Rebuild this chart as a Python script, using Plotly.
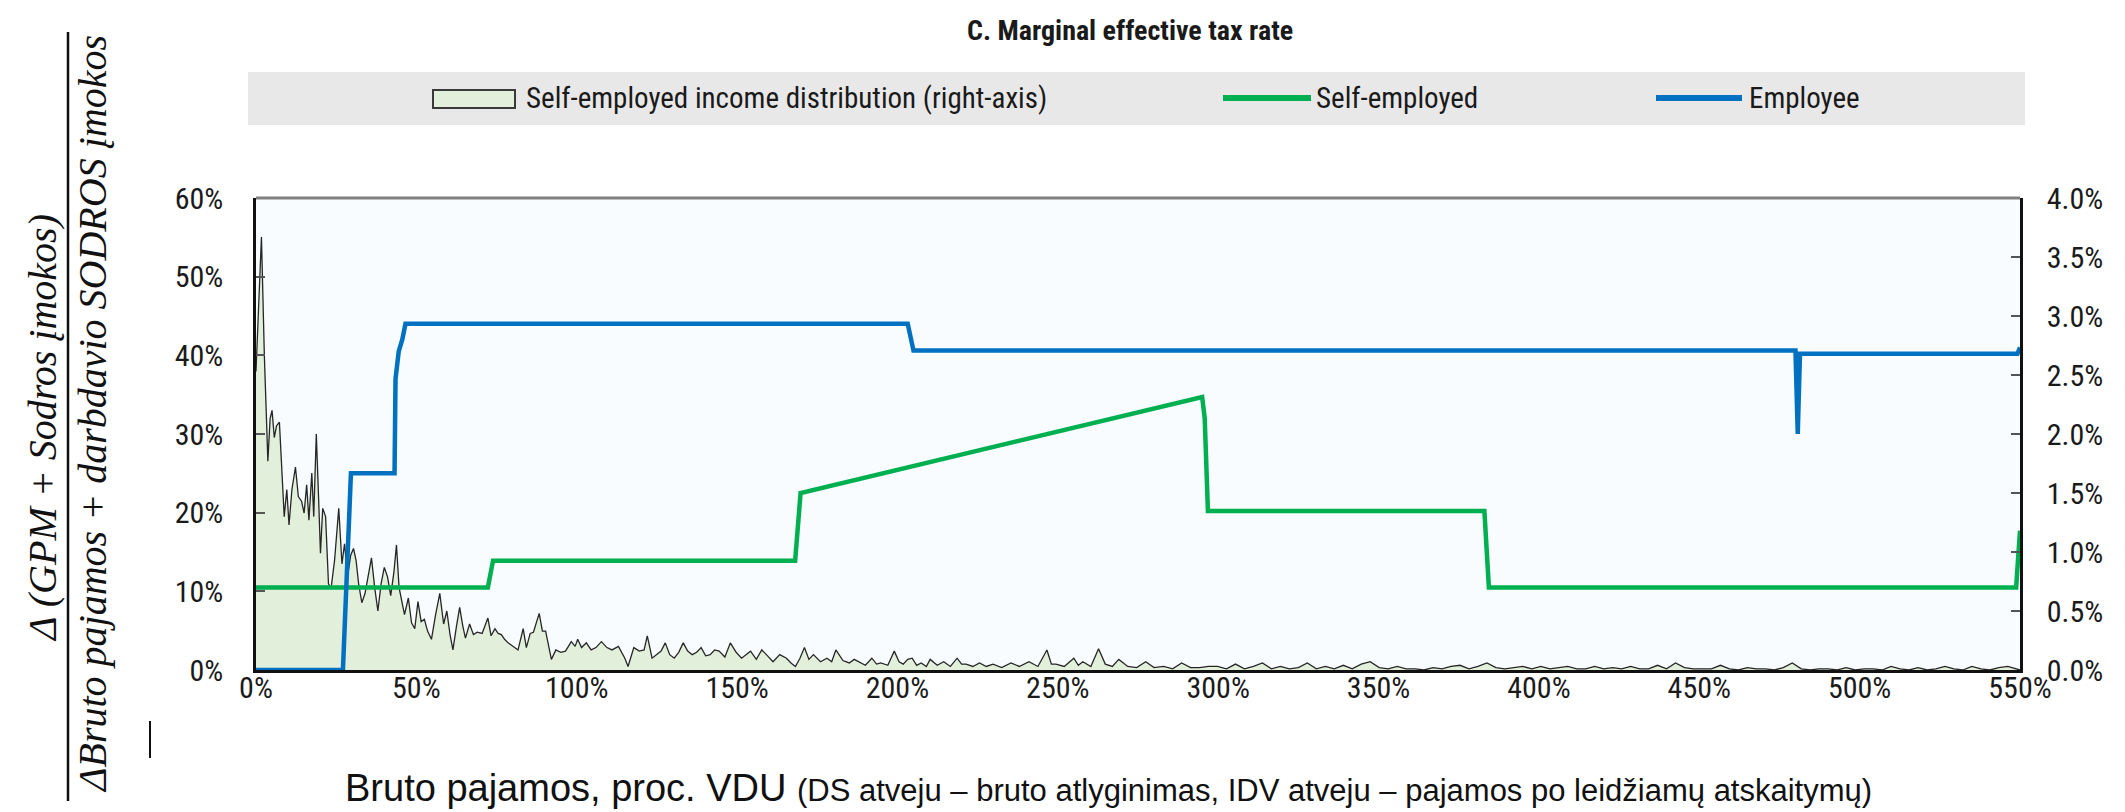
import plotly.graph_objects as go

# ---------------- data ----------------
# x: gross income, % of average wage
# Self-employed income distribution (right axis, %)
dist_x = [
    0, 0.8, 1.7, 2.6, 3.7, 4.4, 5.0, 5.7, 6.4, 7.3,
    8.0, 8.8, 9.6, 10.3, 11.2, 12.3, 13.2, 14.2, 15.0, 15.8,
    16.5, 17.4, 18.0, 18.8, 19.5, 20.1, 20.8, 21.7, 22.6, 23.4,
    24.5, 25.8, 26.8, 27.6, 28.6, 29.5, 30.4, 31.2, 32.0, 33.0,
    34, 35, 36, 37, 38, 39, 40, 41, 42, 43,
    43.8, 44.6, 45.4, 46.3, 47.5, 48.5, 49.5, 50.5, 51.5, 52.5,
    53.5, 54.7, 56.0, 57.3, 58.5, 59.5, 60.5, 61.4, 62.5, 63.5,
    64.5, 65.3, 66.6, 67.8, 69.0, 70.5, 72.3, 73.3, 74.5, 75.5,
    76.5, 77.5, 78.6, 80.0, 81.7, 83.3, 84.3, 85.5, 86.5, 88.3,
    89.3, 90.3, 92.1, 93.5, 95.0, 96.5, 98.3, 99.5, 100.3, 101.5,
    103, 104.5, 106, 107.7, 109.4, 111, 113, 115, 116, 117.8,
    119.5, 121, 122, 123.5, 124.8, 126.3, 127.6, 129, 130.4, 131.8,
    133.2, 134.6, 136, 137.4, 138.8, 140.2, 141.6, 143, 144.4, 146.2,
    147.9, 149.7, 151.4, 152.8, 154.2, 156, 157.7, 159.5, 161.2, 163.3,
    165.4, 166.8, 168.2, 169.6, 171, 172.4, 173.8, 176, 178, 179.5,
    180.8, 183, 185, 186.5, 187.8, 190, 192, 193.5, 194.8, 197,
    199, 200.5, 201.8, 203.2, 204.6, 206, 207.4, 209, 210.2, 212.4,
    214.4, 216.5, 218.6, 220, 221.4, 223.5, 225.6, 227.7, 229.8, 232.5,
    235.4, 238, 241, 243.8, 246.6, 248, 249.4, 252, 255, 256.4,
    257.8, 260.3, 262.7, 264.8, 267, 269, 271.8, 274.6, 277.4, 280,
    283, 285.8, 288.6, 291.4, 294.2, 297, 299.8, 302.6, 305.4, 308.2,
    311, 313.8, 316.6, 319.4, 322.2, 325, 327.8, 330.6, 333.4, 336.2,
    339, 341.8, 344.6, 347.4, 350.2, 353, 355.8, 358.6, 361.4, 364.2,
    367, 369.8, 372.6, 375.4, 378.2, 381, 383.8, 386.6, 389.4, 392.2,
    395, 397.8, 400.6, 403.4, 406.2, 409, 411.8, 414.6, 417.4, 420.2,
    423, 425.8, 428.6, 431.4, 434.2, 437, 439.8, 442.6, 445.4, 448.2,
    451, 453.8, 456.6, 459.4, 462.2, 465, 467.8, 470.6, 473.4, 476.2,
    479, 481.8, 484.6, 487.4, 490.2, 493, 495.8, 498.6, 501.4, 504.2,
    507, 509.8, 512.6, 515.4, 518.2, 521, 523.8, 526.6, 529.4, 532.2,
    535, 537.8, 540.6, 543.4, 546.2, 549, 550,
]
dist_y = [
    2.53, 3.13, 3.67, 2.67, 1.77, 2.13, 2.2, 1.97, 2.07, 2.1,
    1.67, 1.3, 1.53, 1.23, 1.53, 1.72, 1.47, 1.43, 1.33, 1.57,
    1.27, 1.67, 1.3, 2.0, 1.47, 0.99, 1.37, 1.3, 0.73, 0.69,
    0.93, 1.37, 0.9, 1.07, 0.8, 0.97, 1.03, 0.93, 0.73, 0.57,
    0.65, 0.8, 0.95, 0.7, 0.5, 0.73, 0.87, 0.79, 0.63, 0.83,
    1.06, 0.7, 0.6, 0.47, 0.61, 0.4, 0.35, 0.58, 0.41, 0.43,
    0.33, 0.26, 0.47, 0.65, 0.39, 0.5, 0.3, 0.17, 0.37, 0.53,
    0.37, 0.27, 0.39, 0.3, 0.32, 0.31, 0.44, 0.29, 0.35, 0.31,
    0.3, 0.26, 0.23, 0.2, 0.17, 0.35, 0.19, 0.31, 0.32, 0.48,
    0.33, 0.33, 0.09, 0.17, 0.15, 0.16, 0.24, 0.2, 0.26, 0.19,
    0.23, 0.17, 0.19, 0.24, 0.19, 0.17, 0.2, 0.1, 0.03, 0.19,
    0.16, 0.17, 0.29, 0.1, 0.13, 0.16, 0.23, 0.13, 0.1, 0.15,
    0.23, 0.16, 0.13, 0.15, 0.19, 0.12, 0.13, 0.17, 0.16, 0.11,
    0.23, 0.15, 0.1, 0.13, 0.16, 0.09, 0.17, 0.12, 0.07, 0.13,
    0.1, 0.06, 0.03, 0.1, 0.19, 0.09, 0.13, 0.07, 0.1, 0.07,
    0.17, 0.08, 0.06, 0.09, 0.07, 0.04, 0.1, 0.05, 0.06, 0.04,
    0.16, 0.07, 0.05, 0.09, 0.1, 0.04, 0.06, 0.03, 0.09, 0.04,
    0.07, 0.03, 0.1, 0.05, 0.05, 0.03, 0.06, 0.03, 0.05, 0.02,
    0.06, 0.03, 0.07, 0.03, 0.17, 0.05, 0.05, 0.03, 0.1, 0.04,
    0.07, 0.03, 0.18, 0.05, 0.03, 0.09, 0.03, 0.02, 0.07, 0.02,
    0.03, 0.01, 0.06, 0.02, 0.02, 0.03, 0.03, 0.01, 0.05, 0.01,
    0.03, 0.06, 0.01, 0.03, 0.01, 0.02, 0.06, 0.01, 0.03, 0.01,
    0.04, 0.01, 0.05, 0.07, 0.02, 0.01, 0.03, 0.01, 0.01, 0,
    0.02, 0.01, 0.03, 0.04, 0.01, 0.03, 0.06, 0.02, 0.01, 0.02,
    0.03, 0.01, 0.03, 0.01, 0.02, 0.03, 0.01, 0.01, 0.03, 0.01,
    0.02, 0.01, 0.03, 0.01, 0.01, 0.04, 0.01, 0.06, 0.02, 0.01,
    0.01, 0.01, 0.04, 0.01, 0, 0.02, 0.01, 0.01, 0, 0.02,
    0.06, 0.01, 0, 0.01, 0.01, 0, 0.02, 0, 0.01, 0.01,
    0, 0.03, 0.01, 0, 0.02, 0, 0.01, 0.03, 0.01, 0,
    0.03, 0.01, 0, 0.02, 0.03, 0.01, 0,
]
assert len(dist_x) == len(dist_y)

# Self-employed marginal effective tax rate (left axis, %)
se_x = [0, 72.3, 73.9, 168.1, 169.8, 295.0, 295.8, 296.8, 383.0, 384.4, 548.8, 550]
se_y = [10.5, 10.5, 13.9, 13.9, 22.5, 34.7, 32.0, 20.2, 20.2, 10.5, 10.5, 17.7]

# Employee marginal effective tax rate (left axis, %)
emp_x = [0, 27.1, 29.6, 43.2, 43.5, 44.5, 45.6, 46.6, 203.2, 205.0, 480.0, 480.7, 481.4, 549.2, 550]
emp_y = [0, 0, 25.0, 25.0, 37.0, 40.5, 42.0, 44.0, 44.0, 40.6, 40.6, 30.0, 40.2, 40.2, 41.0]

x_ticks = list(range(0, 551, 50))
left_ticks = [0, 10, 20, 30, 40, 50, 60]
right_ticks = [0, 0.5, 1.0, 1.5, 2.0, 2.5, 3.0, 3.5, 4.0]

# ---------------- styling ----------------
NARROW = "Liberation Sans Narrow, Arial Narrow, Roboto Condensed, DejaVu Sans Condensed, sans-serif"
SANS = "Liberation Sans, Arial, sans-serif"
SERIF = "Liberation Serif, Cambria, DejaVu Serif, serif"
GREEN = "#00b050"
BLUE = "#0070c0"
FILL = "#e2efda"

W, H = 2125, 812
L, R, T, B = 248, 2012, 190, 662  # plot area in pixels


def PX(X):
    return (X - L) / (R - L)


def PY(Y):
    return (B - Y) / (B - T)


fig = go.Figure()
fig.add_trace(go.Scatter(
    x=dist_x, y=dist_y, yaxis="y", mode="lines",
    line=dict(color="#262626", width=1.3), fill="tozeroy", fillcolor=FILL,
    name="Self-employed income distribution (right-axis)", showlegend=False,
))
fig.add_trace(go.Scatter(
    x=se_x, y=se_y, yaxis="y2", mode="lines",
    line=dict(color=GREEN, width=4.5), name="Self-employed", showlegend=False,
))
fig.add_trace(go.Scatter(
    x=emp_x, y=emp_y, yaxis="y2", mode="lines",
    line=dict(color=BLUE, width=4.5), name="Employee", showlegend=False,
))

tickfont = dict(family=NARROW, size=30, color="#1a1a1a")

fig.update_layout(
    width=W, height=H, autosize=False,
    margin=dict(l=L, r=W - R, t=T, b=H - B, pad=0),
    paper_bgcolor="white", plot_bgcolor="#f8fcfe",
    xaxis=dict(
        range=[0, 550], tickvals=x_ticks, ticktext=[f"{v}%" for v in x_ticks],
        showline=True, linecolor="#111", linewidth=2.5, ticks="",
        showgrid=False, zeroline=False, tickfont=tickfont, ticklabelstandoff=-11,
    ),
    yaxis=dict(
        range=[0, 4], side="right", tickvals=right_ticks,
        ticktext=[f"{v:.1f}%" for v in right_ticks],
        showline=True, linecolor="#111", linewidth=2.5,
        ticks="inside", ticklen=9, tickwidth=2, tickcolor="#555",
        showgrid=False, zeroline=False, tickfont=tickfont, ticklabelstandoff=18,
    ),
    yaxis2=dict(
        range=[0, 60], side="left", overlaying="y", anchor="x",
        tickvals=left_ticks, ticktext=[f"{v}%" for v in left_ticks],
        showline=True, linecolor="#111", linewidth=2.5,
        ticks="inside", ticklen=9, tickwidth=2, tickcolor="#555",
        showgrid=False, zeroline=False, tickfont=tickfont, ticklabelstandoff=24,
    ),
)

shapes = [
    # top border of the plot (grey)
    dict(type="line", xref="paper", yref="paper", x0=0, x1=1, y0=1, y1=1,
         line=dict(color="#808080", width=3)),
    # legend band
    dict(type="rect", xref="paper", yref="paper", x0=PX(240), x1=PX(2017),
         y0=PY(117), y1=PY(64), fillcolor="#e8e8e8", line=dict(width=0), layer="below"),
    dict(type="rect", xref="paper", yref="paper", x0=PX(425), x1=PX(507),
         y0=PY(100), y1=PY(82), fillcolor=FILL, line=dict(color="#3a3a3a", width=2)),
    dict(type="line", xref="paper", yref="paper", x0=PX(1215), x1=PX(1303),
         y0=PY(90), y1=PY(90), line=dict(color=GREEN, width=6)),
    dict(type="line", xref="paper", yref="paper", x0=PX(1648), x1=PX(1734),
         y0=PY(90), y1=PY(90), line=dict(color=BLUE, width=6)),
    # fraction bar of the y-axis title
    dict(type="line", xref="paper", yref="paper", x0=PX(60), x1=PX(60),
         y0=PY(793), y1=PY(24), line=dict(color="#111", width=2.5)),
    # small stray mark under the fraction
    dict(type="line", xref="paper", yref="paper", x0=PX(142), x1=PX(142),
         y0=PY(750), y1=PY(713), line=dict(color="#111", width=2)),
]

legfont = dict(family=NARROW, size=29, color="#1a1a1a")
annotations = [
    dict(text="<b>C. Marginal effective tax rate</b>", xref="paper", yref="paper",
         x=PX(1122), y=PY(23), xanchor="center", yanchor="middle", showarrow=False,
         font=dict(family=NARROW, size=28, color="#1a1a1a")),
    dict(text="Self-employed income distribution (right-axis)", xref="paper", yref="paper",
         x=PX(516), y=PY(90), xanchor="left", yanchor="middle", showarrow=False, font=legfont),
    dict(text="Self-employed", xref="paper", yref="paper",
         x=PX(1306), y=PY(90), xanchor="left", yanchor="middle", showarrow=False, font=legfont),
    dict(text="Employee", xref="paper", yref="paper",
         x=PX(1739), y=PY(90), xanchor="left", yanchor="middle", showarrow=False, font=legfont),
    # y-axis title as a fraction
    dict(text="<i>Δ (GPM + Sodros įmokos)</i>", xref="paper", yref="paper",
         x=PX(34), y=PY(420), xanchor="center", yanchor="middle", textangle=-90,
         showarrow=False, font=dict(family=SERIF, size=40, color="#111")),
    dict(text="<i>ΔBruto pajamos + darbdavio SODROS įmokos</i>", xref="paper", yref="paper",
         x=PX(84), y=PY(406), xanchor="center", yanchor="middle", textangle=-90,
         showarrow=False, font=dict(family=SERIF, size=40, color="#111")),
    # x-axis title
    dict(text="Bruto pajamos, proc. VDU <span style='font-size:31px'>(DS atveju – bruto atlyginimas, "
              "IDV atveju – pajamos po leidžiamų atskaitymų)</span>",
         xref="paper", yref="paper", x=PX(1100), y=PY(780), xanchor="center", yanchor="middle",
         showarrow=False, font=dict(family=SANS, size=38, color="#111")),
]

fig.update_layout(shapes=shapes, annotations=annotations)
fig.write_html("out.html")
